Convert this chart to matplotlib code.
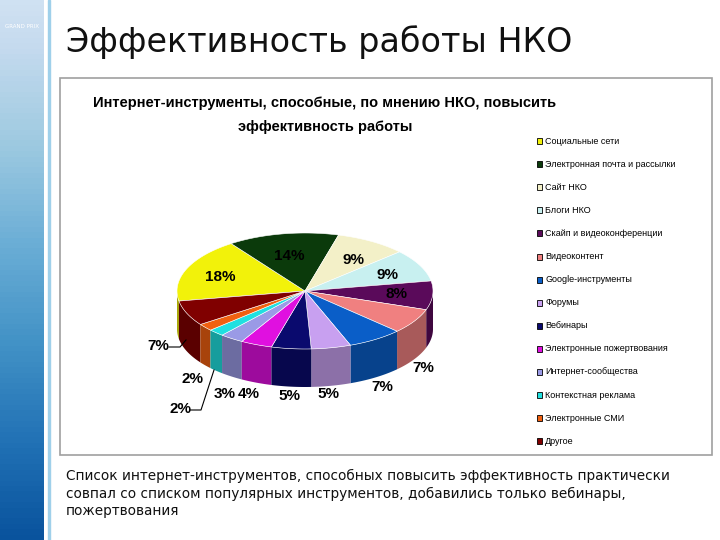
import numpy as np
import matplotlib.pyplot as plt
from matplotlib.patches import Polygon, Rectangle
from matplotlib.colors import to_rgb

labels = ['Социальные сети', 'Электронная почта и рассылки', 'Сайт НКО', 'Блоги НКО',
          'Скайп и видеоконференции', 'Видеоконтент', 'Google-инструменты', 'Форумы',
          'Вебинары', 'Электронные пожертвования', 'Интернет-сообщества',
          'Контекстная реклама', 'Электронные СМИ', 'Другое']
values = [18, 14, 9, 9, 8, 7, 7, 5, 5, 4, 3, 2, 2, 7]
colors = ['#f2f20a', '#0b3a0b', '#f3f0c8', '#c8f0f0', '#5a0a5a', '#f08080', '#0a5ec8',
          '#c8a0f0', '#0a0a6e', '#e010e0', '#9a9ae6', '#20e0e0', '#f06010', '#800000']
# hand-placed positions for the outside labels (index -> x, y)
label_pos = {10: (225, 394), 11: (180, 409), 12: (193, 379), 13: (158, 346),
             9: (249, 394), 8: (289, 396), 7: (328, 394), 6: (382, 387), 5: (423, 368)}

fig = plt.figure(figsize=(7.2, 5.4), dpi=100)
ax = fig.add_axes([0, 0, 1, 1])
ax.set_xlim(0, 720); ax.set_ylim(540, 0); ax.axis('off')

# left stripe
grad = np.linspace(0, 1, 100).reshape(-1, 1)
ax.imshow(grad, cmap='Blues', extent=(0, 44, 540, 0), aspect='auto', vmin=-0.3, vmax=1.2)
ax.add_patch(Rectangle((48, 0), 2, 540, color='#9fd0ea'))
ax.text(22, 28, 'GRAND PRIX', color='white', fontsize=4, ha='center')
ax.text(66, 42, 'Эффективность работы НКО', fontsize=24, va='center', color='#111')

# chart box
ax.add_patch(Rectangle((60, 78), 652, 377, fill=False, ec='#a0a0a0', lw=1.2))
ax.text(325, 103, 'Интернет-инструменты, способные, по мнению НКО, повысить',
        fontsize=10.5, fontweight='bold', ha='center', va='center', family='Liberation Sans')
ax.text(325, 127, 'эффективность работы', fontsize=10.5, fontweight='bold', ha='center',
        va='center', family='Liberation Sans')

# 3D pie in pixel coords
cx, cy, rx, ry, depth = 305, 291, 128, 58, 38
start = 190.0
angs = [start]
for v in values:
    angs.append(angs[-1] - v * 3.6)

def pt(a, dy=0):
    r = np.radians(a)
    return cx + rx * np.cos(r), cy - ry * np.sin(r) + dy

def dark(c, f=0.7):
    return tuple(x * f for x in to_rgb(c))

sides = []
for i, v in enumerate(values):
    t = np.linspace(angs[i + 1], angs[i], 60)
    t = t[np.sin(np.radians(t)) <= 0.001]
    if len(t) < 2:
        continue
    top = [pt(a) for a in t]
    bot = [pt(a, depth) for a in t[::-1]]
    sides.append((abs(np.cos(np.radians(t.mean()))),
                  Polygon(top + bot, fc=dark(colors[i]), ec='none')))
for _, p in sorted(sides, key=lambda s: -s[0]):
    ax.add_patch(p)
for i, v in enumerate(values):
    t = np.linspace(angs[i + 1], angs[i], 80)
    poly = [(cx, cy)] + [pt(a) for a in t]
    ax.add_patch(Polygon(poly, fc=colors[i], ec='white', lw=0.4))

# labels
for i, v in enumerate(values):
    m = np.radians((angs[i] + angs[i + 1]) / 2)
    if i in label_pos:
        x, y = label_pos[i]
    else:
        x, y = cx + 0.72 * rx * np.cos(m), cy - 0.62 * ry * np.sin(m)
    ax.text(x, y, f'{v}%', fontsize=11, fontweight='bold', ha='center', va='center',
            family='Liberation Sans')
# leader lines
ax.plot([169, 180, 186], [347, 347, 340], color='black', lw=0.8)
ax.plot([190, 201, 214], [410, 410, 370], color='black', lw=0.8)

# legend
for i, lab in enumerate(labels):
    y = 141 + i * 23.1
    ax.add_patch(Rectangle((537, y - 3), 5, 6, fc=colors[i], ec='black', lw=0.6))
    ax.text(545, y, lab, fontsize=6.5, va='center', family='Liberation Sans')

ax.text(66, 469, 'Список интернет-инструментов, способных повысить эффективность практически\n'
        'совпал со списком популярных инструментов, добавились только вебинары,\n'
        'пожертвования', fontsize=9.8, va='top', linespacing=1.3, color='#111')

fig.savefig('out.png', dpi=100)
